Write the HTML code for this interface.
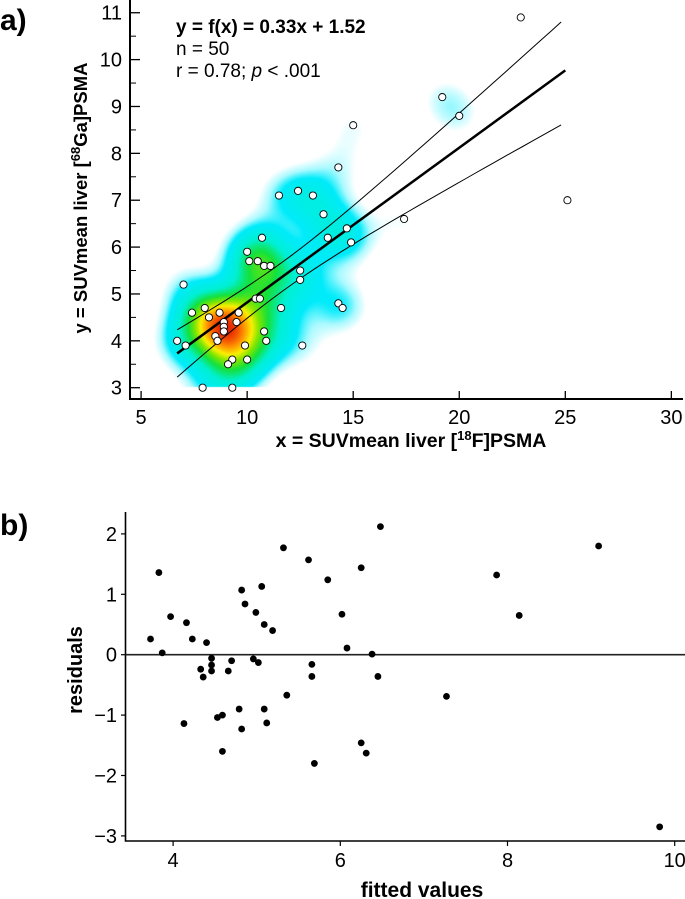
<!DOCTYPE html>
<html><head><meta charset="utf-8">
<style>
html,body{margin:0;padding:0;background:#fff;}
#wrap{position:relative;width:685px;height:899px;overflow:hidden;}
svg text{font-family:"Liberation Sans Narrow","Liberation Sans",sans-serif;}
.b{font-family:"Liberation Sans",sans-serif;font-weight:bold;}
</style></head>
<body>
<div id="wrap">
<canvas id="heat" width="685" height="420" style="position:absolute;left:0;top:0"></canvas>
<svg id="svg" width="685" height="899" style="position:absolute;left:0;top:0"></svg>
</div>
<script>
// ---- Panel a data ----
const xVals=[22.9,19.2,20.0,15.0,14.3,11.5,12.4,13.1,13.6,25.1,17.4,14.7,13.8,14.9,10.7,10.0,10.1,10.5,10.8,11.1,12.5,12.5,7.0,10.4,10.6,14.3,14.5,11.6,8.0,7.4,8.7,9.6,8.2,8.9,9.5,8.9,8.9,10.8,8.5,8.6,10.9,6.7,7.1,9.9,12.6,9.3,10.0,9.1,7.9,9.3];
const yVals=[10.9,9.2,8.8,8.6,7.7,7.1,7.2,7.1,6.7,7.0,6.6,6.4,6.2,6.1,6.2,5.9,5.7,5.7,5.6,5.6,5.5,5.3,5.2,4.9,4.9,4.8,4.7,4.7,4.7,4.6,4.6,4.6,4.5,4.4,4.4,4.3,4.2,4.2,4.1,4.0,4.0,4.0,3.9,3.9,3.9,3.6,3.6,3.5,3.0,3.0];
const xTicksA=[5,10,15,20,25,30];
const yTicksA=[3,4,5,6,7,8,9,10,11];
const slope=0.33, intercept=1.52;
const fitRange=[6.7,25];
const ciRange=[6.7,24.8];
const ciScale=2.2;
// ---- Panel b data ----
const fitted=[3.73,3.83,3.87,3.97,4.13,4.16,4.23,4.33,4.36,4.40,4.46,4.46,4.46,4.53,4.59,4.59,4.66,4.70,4.79,4.82,4.82,4.86,4.96,4.99,5.02,5.06,5.09,5.09,5.12,5.19,5.32,5.36,5.62,5.66,5.66,5.69,5.85,6.02,6.08,6.25,6.25,6.31,6.38,6.45,6.48,7.27,7.87,8.14,9.09,9.82];
const resid=[0.26,1.36,0.03,0.63,-1.14,0.53,0.26,-0.24,-0.37,0.20,-0.06,-0.17,-0.27,-1.04,-1.00,-1.60,-0.27,-0.10,-0.90,1.07,-1.23,0.84,-0.07,0.70,-0.13,1.13,0.50,-0.90,-1.13,0.40,1.77,-0.67,1.57,-0.16,-0.36,-1.80,1.24,0.67,0.11,1.44,-1.46,-1.63,0.01,-0.36,2.12,-0.69,1.32,0.65,1.80,-2.85];
const xTicksB=[4,6,8,10];
const yTicksB=[-3,-2,-1,0,1,2];

const NS='http://www.w3.org/2000/svg';
const svg=document.getElementById('svg');
function mk(tag,attrs,parent){const e=document.createElementNS(NS,tag);for(const k in attrs)e.setAttribute(k,attrs[k]);(parent||svg).appendChild(e);return e;}

const ax=v=>141.1+(v-5)*21.21;
const ay=v=>387.7-(v-3)*46.87;
const bx=v=>173.1+(v-4)*83.6;
const by=v=>654.7-v*60.4;

// ---- heatmap ----
(function(){
 const c=document.getElementById('heat').getContext('2d');
 const x0=Math.floor(ax(5.4)),x1=Math.ceil(ax(22)),y0=Math.floor(ay(10)),y1=Math.floor(ay(3));
 const sx=1.0,sy=0.45;
 const w=x1-x0,h=y1-y0;const d=new Float32Array(w*h);let mx=0;
 for(let j=0;j<h;j++){const yv=3+(387.7-(y0+j))/46.87;for(let i=0;i<w;i++){const xv=5+(x0+i-141.1)/21.21;let s=0;for(let k=0;k<xVals.length;k++){const dx=(xv-xVals[k])/sx,dy=(yv-yVals[k])/sy;s+=Math.exp(-0.5*(dx*dx+dy*dy));}d[j*w+i]=s;if(s>mx)mx=s;}}
 const img=c.createImageData(w,h);
 const stops=[[0,[255,255,255]],[0.1,[255,255,255]],[0.16,[170,250,255]],[0.22,[0,235,250]],[0.38,[0,240,210]],[0.52,[20,225,60]],[0.64,[130,230,0]],[0.74,[250,240,0]],[0.86,[255,140,0]],[1,[230,30,0]]];
 function col(t){for(let s=1;s<stops.length;s++){if(t<=stops[s][0]){const a=stops[s-1],b=stops[s];const f=(t-a[0])/(b[0]-a[0]);return a[1].map((v,q)=>v+(b[1][q]-v)*f);}}return stops[stops.length-1][1];}
 for(let p=0;p<w*h;p++){const cc=col(d[p]/mx);img.data[p*4]=cc[0];img.data[p*4+1]=cc[1];img.data[p*4+2]=cc[2];img.data[p*4+3]=255;}
 c.putImageData(img,x0,y0);
})();

// ---- Panel a ----
const ga=mk('g',{});


const axA=mk('path',{d:'M130,0 V399 H683',stroke:'#000','stroke-width':2,fill:'none'},ga);


xTicksA.forEach(t=>{
 mk('line',{x1:ax(t),x2:ax(t),y1:399,y2:391,stroke:'#000','stroke-width':1.3},ga);
 const tx=mk('text',{x:ax(t),y:424,'font-size':20,'text-anchor':'middle'},ga);tx.textContent=t;
 
 
});
yTicksA.forEach((t,i)=>{
 mk('line',{x1:130,x2:140,y1:ay(t),y2:ay(t),stroke:'#000','stroke-width':1.3},ga);
 if(i<yTicksA.length-1)mk('line',{x1:130,x2:136,y1:ay(t+0.5),y2:ay(t+0.5),stroke:'#000','stroke-width':1},ga);
 const tx=mk('text',{x:122,y:ay(t)+7,'font-size':20,'text-anchor':'end'},ga);tx.textContent=t;
 
 
});
const xm=xVals.reduce((a,b)=>a+b,0)/xVals.length;
const sxx=xVals.reduce((a,b)=>a+(b-xm)*(b-xm),0);
function band(sign){let pts=[];for(let k=0;k<=40;k++){const x=ciRange[0]+(ciRange[1]-ciRange[0])*k/40;const y=slope*x+intercept+sign*ciScale*Math.sqrt(1/xVals.length+(x-xm)*(x-xm)/sxx);pts.push(ax(x).toFixed(1)+','+ay(y).toFixed(1));}return 'M'+pts.join(' L');}
const up=mk('path',{d:band(1),stroke:'#000','stroke-width':1,fill:'none'},ga);


const lo=mk('path',{d:band(-1),stroke:'#000','stroke-width':1,fill:'none'},ga);


const fl=mk('line',{x1:ax(fitRange[0]),y1:ay(slope*fitRange[0]+intercept),x2:ax(fitRange[1]),y2:ay(slope*fitRange[1]+intercept),stroke:'#000','stroke-width':2.5},ga);


xVals.forEach((x,i)=>{
 const c=mk('circle',{cx:ax(x),cy:ay(yVals[i]),r:3.6,fill:'#fff',stroke:'#000','stroke-width':0.9},ga);
 
 
});
const an=mk('g',{},ga);


let t1=mk('text',{x:176,y:33,'font-size':19,class:'b'},an);t1.textContent='y = f(x) = 0.33x + 1.52';
let t2=mk('text',{x:176,y:55,'font-size':19},an);t2.textContent='n = 50';
let t3=mk('text',{x:176,y:77,'font-size':19},an);t3.innerHTML='r = 0.78; <tspan font-style="italic">p</tspan> &lt; .001';
let la=mk('text',{x:0,y:30,'font-size':30,class:'b'});la.textContent='a)';

let yt=mk('text',{x:0,y:0,'font-size':18.5,class:'b','text-anchor':'middle',transform:'translate(87,198) rotate(-90)'});
yt.innerHTML='y = SUVmean liver [<tspan font-size="13" dy="-7">68</tspan><tspan dy="7">Ga]PSMA</tspan>';

let xt=mk('text',{x:411,y:447,'font-size':19.5,class:'b','text-anchor':'middle'});
xt.innerHTML='x = SUVmean liver [<tspan font-size="13" dy="-7">18</tspan><tspan dy="7">F]PSMA</tspan>';


// ---- Panel b ----
const gb=mk('g',{});


const axB=mk('path',{d:'M125.5,512 V841 H685',stroke:'#000','stroke-width':1.6,fill:'none'},gb);


xTicksB.forEach(t=>{
 mk('line',{x1:bx(t),x2:bx(t),y1:841,y2:846,stroke:'#000','stroke-width':1.2},gb);
 const tx=mk('text',{x:bx(t),y:867,'font-size':20,'text-anchor':'middle'},gb);tx.textContent=t;
 
 
});
yTicksB.forEach(t=>{
 mk('line',{x1:121,x2:125.5,y1:by(t),y2:by(t),stroke:'#000','stroke-width':1.2},gb);
 const tx=mk('text',{x:117,y:by(t)+7,'font-size':20,'text-anchor':'end'},gb);tx.textContent=t<0?'\u2212'+(-t):t;
 
 
});
const zl=mk('line',{x1:125.5,x2:685,y1:by(0),y2:by(0),stroke:'#222','stroke-width':1.6},gb);


fitted.forEach((f,i)=>{
 const c=mk('circle',{cx:bx(f),cy:by(resid[i]),r:3.4,fill:'#000'},gb);
 
 
});
let lb=mk('text',{x:0,y:535,'font-size':30,class:'b'});lb.textContent='b)';

let ry=mk('text',{x:0,y:0,'font-size':20,class:'b','text-anchor':'middle',transform:'translate(82,670) rotate(-90)'});ry.textContent='residuals';

let fx=mk('text',{x:422,y:897,'font-size':21,class:'b','text-anchor':'middle'});fx.textContent='fitted values';

</script>
</body></html>
